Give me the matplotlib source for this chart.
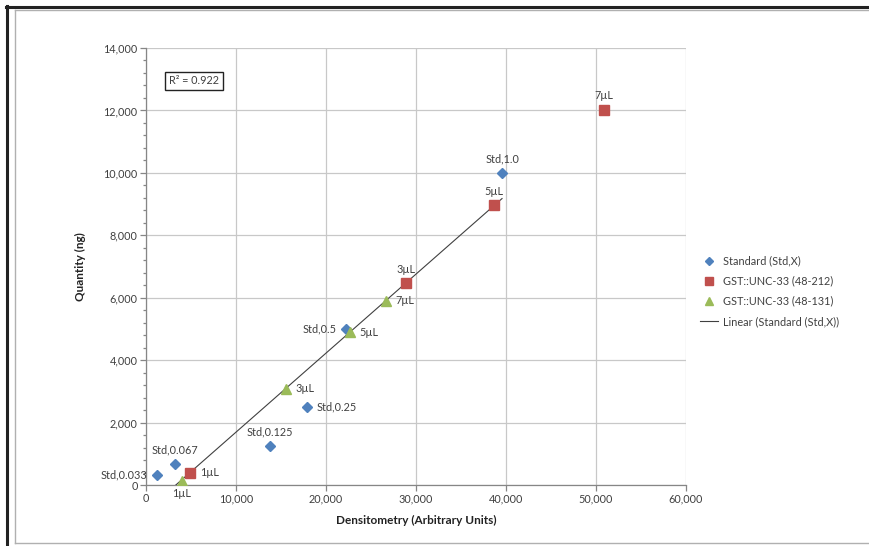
import matplotlib
matplotlib.use("Agg")
import matplotlib.pyplot as plt
from matplotlib.lines import Line2D
from matplotlib.ticker import MultipleLocator, FuncFormatter
import numpy as np

plt.rcParams['font.family'] = ['Lato', 'DejaVu Sans']

# Standard (Std,X)
std_x = [1220, 3220, 13780, 17890, 22220, 39560]
std_y = [330, 670, 1250, 2500, 5000, 10000]
std_labels = ['Std,0.033', 'Std,0.067', 'Std,0.125', 'Std,0.25', 'Std,0.5', 'Std,1.0']

# GST::UNC-33 (48-212)
s212_x = [4890, 28890, 38670, 50890]
s212_y = [400, 6470, 8970, 12020]
s212_labels = ['1µL', '3µL', '5µL', '7µL']

# GST::UNC-33 (48-131)
s131_x = [4000, 15560, 22670, 26670]
s131_y = [130, 3080, 4900, 5900]
s131_labels = ['1µL', '3µL', '5µL', '7µL']

W, H = 870, 546
fig = plt.figure(figsize=(W / 100, H / 100), dpi=100)
fig.patch.set_facecolor('white')

# screenshot frame
def fline(xs, ys, **kw):
    fig.add_artist(Line2D([x / W for x in xs], [1 - y / H for y in ys],
                          transform=fig.transFigure, **kw))

fline([7.5, 7.5], [6, 546], color='#222222', lw=2.2)
fline([6.5, 870], [6.5, 6.5], color='#222222', lw=2.2)
fline([15, 15], [10, 543], color='#b0b0b0', lw=1.0)
fline([15, 870], [10, 10], color='#b0b0b0', lw=1.0)
fline([15, 870], [543, 543], color='#b0b0b0', lw=1.0)

ax = fig.add_axes([146 / W, 1 - 485 / H, 540 / W, 437 / H])

blue = '#4F81BD'
red = '#C0504D'
green = '#9BBB59'

ax.plot(std_x, std_y, 'D', color=blue, ms=5.5, mec=blue, label='Standard (Std,X)', zorder=4)
ax.plot(s212_x, s212_y, 's', color=red, ms=7, mec=red, label='GST::UNC-33 (48-212)', zorder=4)
ax.plot(s131_x, s131_y, '^', color=green, ms=7.5, mec=green, label='GST::UNC-33 (48-131)', zorder=4)

# linear trendline on standards
slope, icpt = np.polyfit(std_x, std_y, 1)
fit = np.polyval([slope, icpt], std_x)
r2 = 1 - np.sum((np.array(std_y) - fit) ** 2) / np.sum((np.array(std_y) - np.mean(std_y)) ** 2)
tx = np.array([min(std_x), max(std_x)])
ax.plot(tx, slope * tx + icpt, color='#404040', lw=0.8, label='Linear (Standard (Std,X))', zorder=3)

ax.set_xlim(0, 60000)
ax.set_ylim(0, 14000)
ax.xaxis.set_major_locator(MultipleLocator(10000))
ax.yaxis.set_major_locator(MultipleLocator(2000))
ax.yaxis.set_minor_locator(MultipleLocator(400))
fmt = FuncFormatter(lambda v, p: f'{int(v):,}')
ax.xaxis.set_major_formatter(fmt)
ax.yaxis.set_major_formatter(fmt)

ax.grid(True, which='major', color='#c8c8c8', lw=0.9)
ax.set_axisbelow(True)
for s in ['top', 'right']:
    ax.spines[s].set_visible(False)
for s in ['left', 'bottom']:
    ax.spines[s].set_color('#868686')
    ax.spines[s].set_linewidth(0.9)
ax.tick_params(which='major', direction='out', length=4, width=0.9, color='#868686',
               labelsize=7.8, labelcolor='#404040', pad=2)
ax.tick_params(which='minor', direction='out', length=2.5, width=0.9, color='#868686')
ax.tick_params(axis='x', which='minor', length=0)

ax.set_xlabel('Densitometry (Arbitrary Units)', fontsize=8.5, fontweight='bold', color='#222222')
ax.set_ylabel('Quantity (ng)', fontsize=8.5, fontweight='bold', color='#222222')
ax.xaxis.set_label_coords(0.5, -30 / 437)
ax.yaxis.set_label_coords(-60 / 540, 0.5)

# point labels: offsets in points
std_pos = [(-7, 0, 'right', 'center'), (0, 6, 'center', 'bottom'), (0, 6, 'center', 'bottom'),
           (7, 0, 'left', 'center'), (-7, 0, 'right', 'center'), (0, 6, 'center', 'bottom')]
s212_pos = [(7, 0, 'left', 'center'), (0, 6, 'center', 'bottom'), (0, 6, 'center', 'bottom'),
            (0, 6, 'center', 'bottom')]
s131_pos = [(0, -5, 'center', 'top'), (7, 0, 'left', 'center'), (7, 0, 'left', 'center'),
            (7, 0, 'left', 'center')]

for xs, ys, labs, pos in [(std_x, std_y, std_labels, std_pos),
                          (s212_x, s212_y, s212_labels, s212_pos),
                          (s131_x, s131_y, s131_labels, s131_pos)]:
    for x, y, t, (dx, dy, ha, va) in zip(xs, ys, labs, pos):
        ax.annotate(t, (x, y), xytext=(dx, dy), textcoords='offset points',
                    ha=ha, va=va, fontsize=7.8, color='#404040', annotation_clip=False)

ax.text(23 / 540, 1 - 33 / 437, f'R² = {r2:.3f}', transform=ax.transAxes,
        fontsize=7.8, color='#404040', ha='left', va='center',
        bbox=dict(boxstyle='square,pad=0.35', fc='white', ec='#222222', lw=1.0))

leg = fig.legend(loc='upper left', bbox_to_anchor=(696 / W, 1 - 251 / H), frameon=False,
                 fontsize=7.8, handlelength=1.6, handletextpad=0.5, labelspacing=0.85,
                 borderaxespad=0, markerscale=0.8)
for t in leg.get_texts():
    t.set_color('#404040')

fig.savefig('out.png', dpi=100)
